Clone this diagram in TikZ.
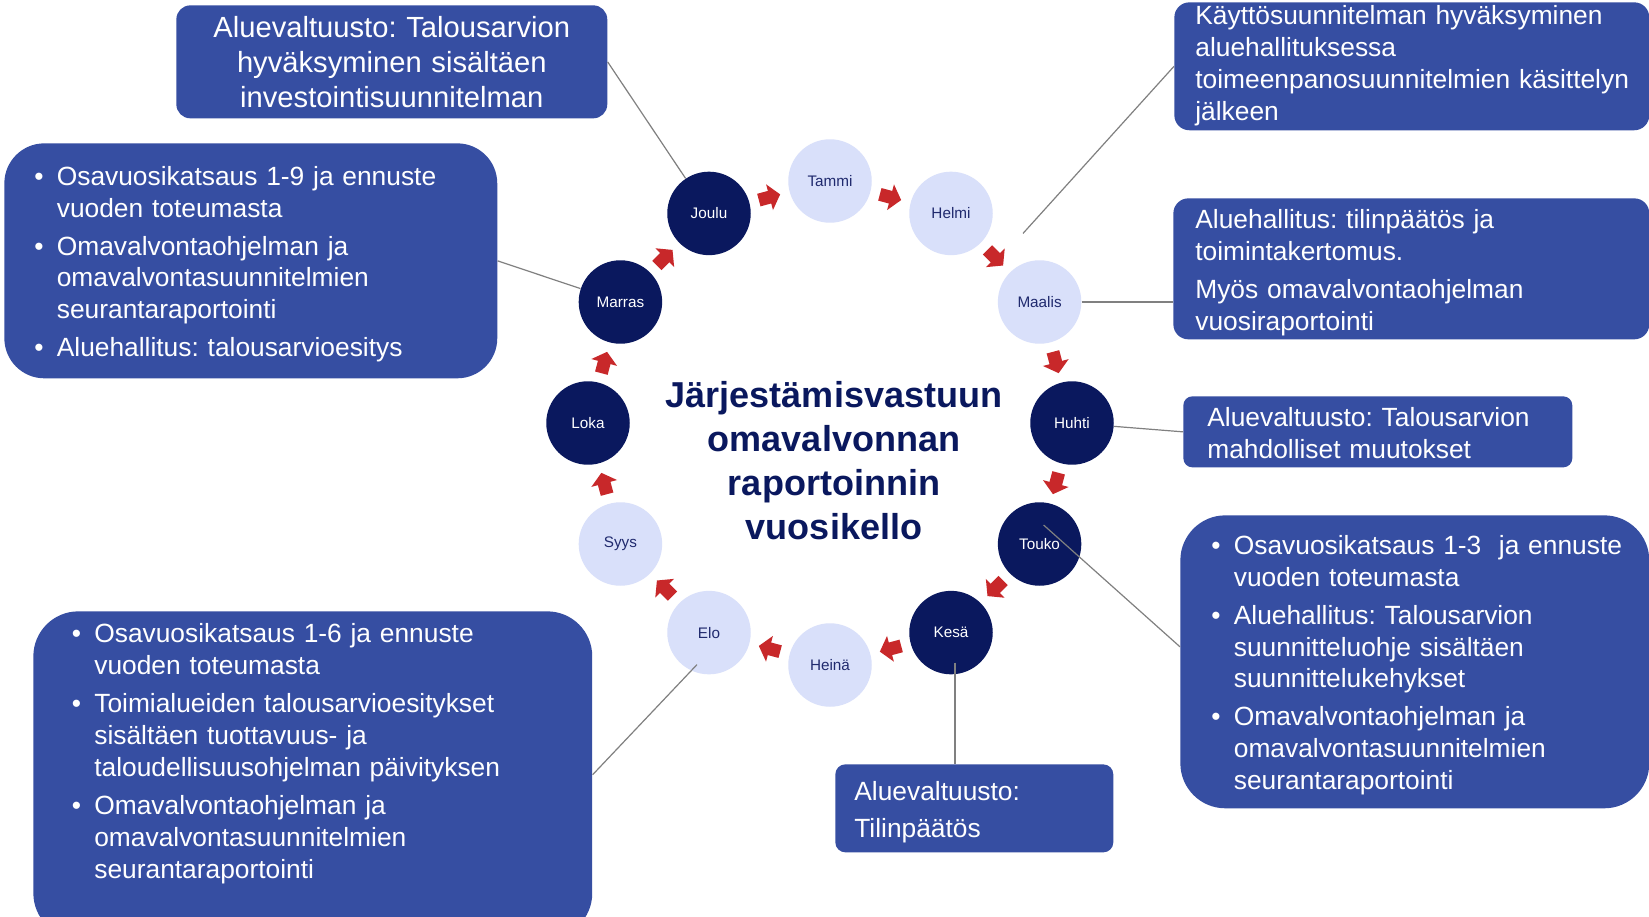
\documentclass[tikz,border=0pt]{standalone}
\usepackage{fontspec}
\setmainfont{Liberation Sans}
\usetikzlibrary{arrows.meta,calc}

\definecolor{laatikonsininen}{RGB}{54,78,162}
\definecolor{tummansininen}{RGB}{10,24,94}
\definecolor{vaaleansininen}{RGB}{217,224,250}
\definecolor{kuuteksti}{RGB}{32,42,110}
\definecolor{nuolenpuna}{RGB}{200,40,42}
\definecolor{viivanharmaa}{RGB}{128,128,128}

\newcommand{\rivit}[1]{\begin{tabular}[t]{@{}l@{}}#1\end{tabular}}
\newcommand{\kohta}[1]{\par\noindent\makebox[0.45cm][l]{\textbullet}\rivit{#1}}

\begin{document}
\frenchspacing
\begin{tikzpicture}[x=0.02cm, y=-0.02cm,
  kuukausi/.style={circle, minimum size=1.67cm, inner sep=0pt, font=\fontsize{8.7}{10}\selectfont},
  vaalea/.style={kuukausi, fill=vaaleansininen, text=kuuteksti},
  tumma/.style={kuukausi, fill=tummansininen, text=white},
  nuoli/.style={draw=nuolenpuna, line width=0.26cm, shorten <=0.19cm, shorten >=0.19cm,
    -{Triangle[length=0.22cm,width=0.52cm]}},
  yhteys/.style={draw=viivanharmaa, line width=0.024cm},
  laatikko/.style={rectangle, fill=laatikonsininen, text=white, anchor=north west,
    inner ysep=0pt, align=left, font=\fontsize{15}{18.2}\selectfont,
    execute at begin node={\setlength{\parindent}{0pt}\setlength{\parskip}{3.4pt}\lineskip=0pt}},
  otsikko/.style={align=center, text=tummansininen, font=\bfseries\fontsize{20.5}{25}\selectfont}]
  \fill[white] (0,0) rectangle (1649,916);
  \useasboundingbox (0,0) rectangle (1649,916);

  % laatikot
  \node[laatikko, align=center, text width=8.22cm, inner xsep=0.2cm, minimum height=2.26cm,
    rounded corners=0.28cm, font=\fontsize{16.6}{19.9}\selectfont] (b1) at (176,5)
    {Aluevaltuusto: Talousarvion\\hyväksyminen sisältäen\\investointisuunnitelman};
  \node[laatikko, text width=8.66cm, inner xsep=0.42cm, minimum height=2.52cm,
    rounded corners=0.3cm] (b2) at (1174,2)
    {\rivit{Käyttösuunnitelman hyväksyminen\\aluehallituksessa\\toimeenpanosuunnitelmien käsittelyn\\jälkeen}};
  \node[laatikko, text width=8.64cm, inner xsep=0.44cm, minimum height=2.82cm,
    rounded corners=0.3cm] (b3) at (1173,198)
    {\rivit{Aluehallitus: tilinpäätös ja\\toimintakertomus.}\par\rivit{Myös omavalvontaohjelman\\vuosiraportointi}\par\vspace*{-0.16cm}};
  \node[laatikko, text width=6.82cm, inner xsep=0.48cm, minimum height=1.42cm,
    rounded corners=0.18cm] (b4) at (1183,396)
    {\rivit{Aluevaltuusto: Talousarvion\\mahdolliset muutokset}\par\vspace*{-0.16cm}};
  \node[laatikko, text width=8.14cm, inner xsep=0.62cm, minimum height=5.86cm,
    rounded corners=0.9cm] (b5) at (1180,515)
    {\kohta{Osavuosikatsaus 1-3\ \ ja ennuste\\vuoden toteumasta}%
     \kohta{Aluehallitus: Talousarvion\\suunnitteluohje sisältäen\\suunnittelukehykset}%
     \kohta{Omavalvontaohjelman ja\\omavalvontasuunnitelmien\\seurantaraportointi}\par\vspace*{0.16cm}};
  \node[laatikko, text width=4.8cm, inner xsep=0.38cm, minimum height=1.76cm,
    rounded corners=0.2cm, font=\fontsize{15}{21}\selectfont] (b6) at (835,764)
    {\rivit{Aluevaltuusto:\\Tilinpäätös}\par\vspace*{-0.12cm}};
  \node[laatikko, text width=9.64cm, inner xsep=0.77cm, minimum height=6.14cm,
    rounded corners=0.9cm] (b7) at (33,611)
    {\vskip-0.13cm\kohta{Osavuosikatsaus 1-6 ja ennuste\\vuoden toteumasta}%
     \kohta{Toimialueiden talousarvioesitykset\\sisältäen tuottavuus- ja\\taloudellisuusohjelman päivityksen}%
     \kohta{Omavalvontaohjelman ja\\omavalvontasuunnitelmien\\seurantaraportointi}\par\vspace*{1cm}};
  \node[laatikko, text width=8.66cm, inner xsep=0.6cm, minimum height=4.7cm,
    rounded corners=0.8cm] (b8) at (4,143)
    {\kohta{Osavuosikatsaus 1-9 ja ennuste\\vuoden toteumasta}%
     \kohta{Omavalvontaohjelman ja\\omavalvontasuunnitelmien\\seurantaraportointi}%
     \kohta{Aluehallitus: talousarvioesitys}\par\vspace*{0.16cm}};

  % kuukaudet
  \coordinate (kello) at (830,423);
  \foreach \nimi/\teksti/\tyyli [count=\i from 0] in {tammi/Tammi/vaalea, helmi/Helmi/vaalea,
      maalis/Maalis/vaalea, huhti/Huhti/tumma, touko/Touko/tumma, kesa/Kesä/tumma,
      heina/Heinä/vaalea, elo/Elo/vaalea, syys/Syys/vaalea, loka/Loka/tumma,
      marras/Marras/tumma, joulu/Joulu/tumma}
    \node[\tyyli] (\nimi) at ($(kello)+({30*\i-90}:242)$) {\teksti};

  \node[otsikko] (otsikko) at (834,461) {Järjestämisvastuun\\omavalvonnan\\raportoinnin\\vuosikello};

  \foreach \a/\b in {tammi/helmi, helmi/maalis, maalis/huhti, huhti/touko, touko/kesa,
      kesa/heina, heina/elo, elo/syys, syys/loka, loka/marras, marras/joulu, joulu/tammi}
    \draw[nuoli] (\a) -- (\b);

  % yhteysviivat
  \coordinate (helmiend) at ($(helmi)+(72,20)$);
  \coordinate (toukoin) at ($(touko)+(4,-19)$);
  \coordinate (kesain) at ($(kesa)+(4,30)$);
  \coordinate (eloin) at ($(elo)+(-12,32)$);
  \draw[yhteys] (b1.east) -- (joulu);
  \draw[yhteys] (b2.west) -- (helmiend);
  \draw[yhteys] (maalis) -- (maalis -| b3.west);
  \draw[yhteys] (huhti) -- (b4.west);
  \draw[yhteys] (toukoin) -- ($(b5.west)+(0,-15)$);
  \draw[yhteys] (kesain) -- (kesain |- b6.north);
  \draw[yhteys] (b7.east) -- (eloin);
  \draw[yhteys] (b8.east) -- (marras);
\end{tikzpicture}
\end{document}
